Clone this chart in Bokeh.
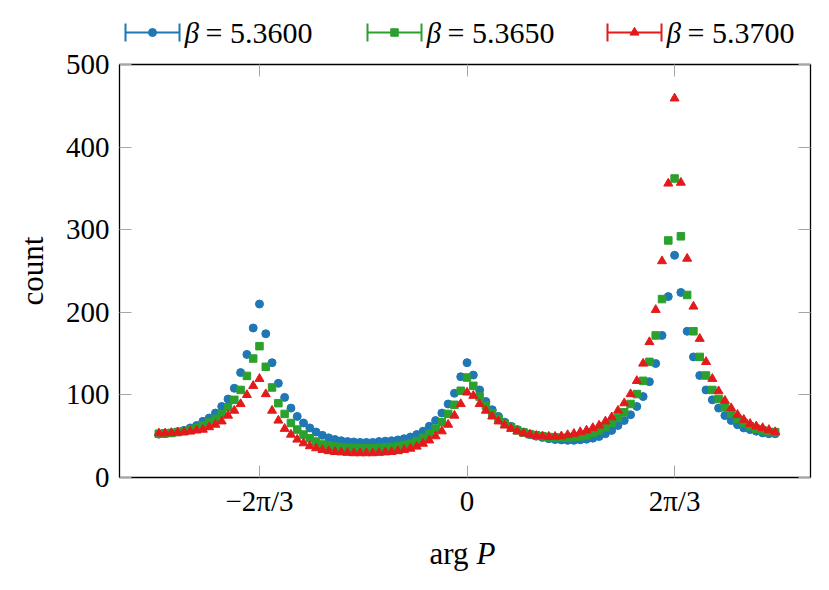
import numpy as np
from bokeh.plotting import figure
from bokeh.models import Range1d, FixedTicker, LinearAxis, ColumnDataSource, CustomJSTickFormatter
from bokeh.layouts import column
from bokeh.embed import file_html
from bokeh.resources import INLINE
from bokeh.core.properties import value

# ---------------- data ----------------
N_BINS = 99
# bin centres of the histogram of arg P over (-pi, pi]
arg_p = [-np.pi + (i + 0.5) * 2 * np.pi / N_BINS for i in range(N_BINS)]

count_5360 = [
    52.5, 53, 54, 55.5, 57, 60, 63, 68, 72, 78,
    86, 95, 108, 127, 149, 181, 210, 174, 139, 114,
    97, 84, 74, 66, 60, 55, 51, 48, 46, 44.5,
    43.5, 43, 42.5, 42.5, 42.5, 43.5, 44, 44.5, 45.5, 47,
    49, 52, 56, 62, 69, 78, 89, 102, 122, 139,
    124, 106, 92, 82, 74, 67, 62, 58, 55, 52,
    50, 48.5, 47, 46, 45.5, 45, 45, 45.6, 46.4, 47.6,
    49.6, 53, 57, 63, 69, 76, 86, 98, 116, 138,
    172, 219, 269, 224, 177, 146, 123.5, 106, 94, 84,
    75, 69, 64, 60, 58, 56, 54, 53, 53,
]
count_5365 = [
    53, 53.5, 54, 55, 56, 58, 60, 63, 67, 71,
    77, 85, 94, 106, 123, 144, 159, 134, 109, 90,
    77, 66, 58, 52, 47.5, 43.5, 40, 38.5, 37.5, 36.5,
    36, 36, 35.5, 35.5, 35.5, 36, 36.5, 37, 38, 39.5,
    41, 44, 48, 53, 59, 67, 77, 88, 105, 121,
    111, 98, 87, 78, 71, 65, 61, 57, 54.5, 52.5,
    51, 50, 49, 48.5, 48, 48, 49, 49.6, 51, 54,
    57, 61, 66, 72, 79, 89, 101, 117, 140, 172,
    216, 287, 362, 292, 221, 177, 146, 123.5, 106, 95,
    85, 77, 71, 66, 62, 59, 57, 55, 55,
]
count_5370 = [
    53.5, 53.5, 54, 54.5, 55, 55.7, 57, 58, 61, 64,
    68, 75, 81, 89, 100, 111, 119.5, 101, 81, 69,
    59, 52, 46, 41.5, 38, 35.5, 33.5, 32, 31, 30.5,
    30, 29.5, 29.5, 29.5, 29.5, 30, 30.5, 31, 32, 33.5,
    35, 37.5, 41, 45, 50, 56, 64, 75, 89, 103,
    99, 89, 81, 74, 68, 63, 59, 56, 53.5, 52,
    50.5, 50, 49.5, 49.5, 50, 51.5, 53, 55, 57, 60,
    63, 68, 73, 81, 90, 101, 117, 138, 164, 203,
    262, 356, 459, 357, 265, 207, 168, 140, 119.5, 104.5,
    93, 84, 76, 70, 65, 62, 60, 57.7, 55,
]
betas = ["5.3600", "5.3650", "5.3700"]
y_ticks = [0, 100, 200, 300, 400, 500]
x_ticks = [-2 * np.pi / 3, 0.0, 2 * np.pi / 3]

BLUE = "#1f77b4"
GREEN = "#2ca02c"
RED = "#e31a1c"
FONT = "Liberation Serif"
TICK_GRAY = "#a6a6a6"

# ---------------- main figure ----------------
p = figure(frame_width=691, frame_height=413,
           x_range=Range1d(-3.507, 3.466), y_range=Range1d(0, 500),
           output_backend="svg", toolbar_location=None,
           min_border_left=119, min_border_right=10,
           min_border_top=16, min_border_bottom=50)
p.grid.visible = False
p.outline_line_color = "black"
p.outline_line_width = 1.3

fmt = CustomJSTickFormatter(code="""
const v = Math.round(tick * 3 / Math.PI);
if (v == 0) return "0";
if (v == -2) return "\u22122\u03c0/3";
if (v == 2) return "2\u03c0/3";
return "";
""")
blank = CustomJSTickFormatter(code="return '';")

p.xaxis.ticker = FixedTicker(ticks=x_ticks)
p.xaxis.formatter = fmt
p.yaxis.ticker = FixedTicker(ticks=y_ticks)

for ax in (p.xaxis[0], p.yaxis[0]):
    ax.axis_line_color = None
    ax.major_tick_in = 12
    ax.major_tick_out = 0
    ax.major_tick_line_color = TICK_GRAY
    ax.major_tick_line_width = 1
    ax.minor_tick_line_color = None
    ax.major_label_text_font = FONT
    ax.major_label_text_font_size = "29px"
    ax.major_label_text_color = "black"

p.xaxis.major_label_standoff = 7
p.yaxis.major_label_standoff = 10
p.yaxis.axis_label = "count"
p.yaxis.axis_label_text_font = FONT
p.yaxis.axis_label_text_font_size = "31px"
p.yaxis.axis_label_text_font_style = "normal"
p.yaxis.axis_label_text_color = "black"
p.yaxis.axis_label_standoff = 13

# ticks on the opposite sides
top = LinearAxis(ticker=FixedTicker(ticks=x_ticks), formatter=blank,
                 axis_line_color=None, major_tick_in=12, major_tick_out=0,
                 major_tick_line_color=TICK_GRAY, minor_tick_line_color=None,
                 major_label_standoff=0)
right = LinearAxis(ticker=FixedTicker(ticks=y_ticks), formatter=blank,
                   axis_line_color=None, major_tick_in=12, major_tick_out=0,
                   major_tick_line_color=TICK_GRAY, minor_tick_line_color=None,
                   major_label_standoff=0)
p.add_layout(top, "above")
p.add_layout(right, "right")

src = ColumnDataSource(dict(x=arg_p, b=count_5360, g=count_5365, r=count_5370))
p.scatter("x", "b", source=src, marker="circle", size=8, color=BLUE)
p.scatter("x", "g", source=src, marker="square", size=7.5, color=GREEN)
p.scatter("x", "r", source=src, marker="triangle", size=9, color=RED)

# ---------------- legend strip (x in page pixels) ----------------
LH = 48
leg = figure(width=820, height=LH, x_range=Range1d(120, 811), y_range=Range1d(0, LH),
             output_backend="svg", toolbar_location=None,
             x_axis_location=None, y_axis_location=None, min_border=0)
leg.grid.visible = False
leg.outline_line_color = None

starts = [126, 368, 608]
colors = [BLUE, GREEN, RED]
markers = ["circle", "square", "triangle"]
msizes = [8, 7.5, 9]
yc = 16
for x0, c, m, ms, b in zip(starts, colors, markers, msizes, betas):
    x1 = x0 + 54
    leg.segment(x0=[x0], y0=[yc], x1=[x1], y1=[yc], line_color=c, line_width=2)
    leg.segment(x0=[x0, x1], y0=[yc - 9, yc - 9], x1=[x0, x1], y1=[yc + 9, yc + 9],
                line_color=c, line_width=2)
    leg.scatter(x=[(x0 + x1) / 2], y=[yc], marker=m, size=ms, color=c)
    leg.text(x=[x1 + 5], y=[yc], text=["\u03b2"], text_font=value(FONT),
             text_font_size="29px", text_font_style="italic", text_baseline="middle",
             text_color="black")
    leg.text(x=[x1 + 26], y=[yc], text=["= " + b], text_font=value(FONT),
             text_font_size="30px", text_baseline="middle", text_color="black")

# ---------------- x-axis label strip ----------------
XH = 55
xl = figure(width=820, height=XH, x_range=Range1d(120, 811), y_range=Range1d(0, XH),
            output_backend="svg", toolbar_location=None,
            x_axis_location=None, y_axis_location=None, min_border=0)
xl.grid.visible = False
xl.outline_line_color = None
xl.text(x=[430], y=[29], text=["arg"], text_font=value(FONT), text_font_size="31px",
        text_baseline="alphabetic", text_color="black")
xl.text(x=[477], y=[29], text=["P"], text_font=value(FONT), text_font_size="31px",
        text_font_style="italic", text_baseline="alphabetic", text_color="black")

layout = column(leg, p, xl)
open("out.html", "w").write(file_html(layout, INLINE))
